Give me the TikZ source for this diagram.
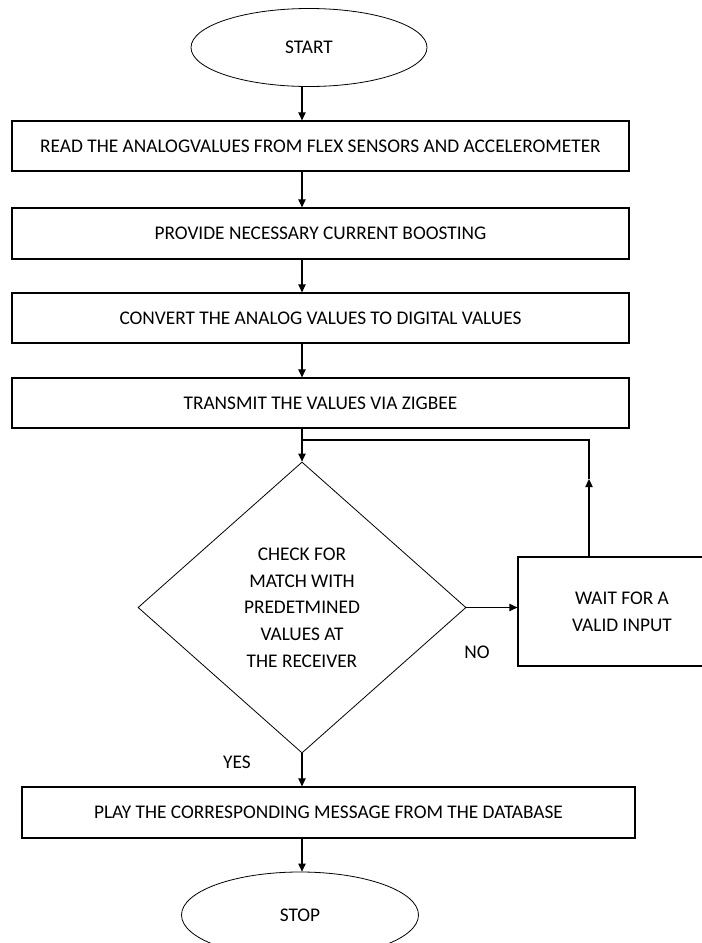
\documentclass[tikz,border=0pt]{standalone}
\usepackage{fontspec}
\setmainfont{Carlito}
\usetikzlibrary{shapes.geometric,arrows.meta}
\newcommand{\pxl}{0.75pt}

\begin{document}
\begin{tikzpicture}[x=0.75pt, y=-0.75pt,
	 >={Triangle[length=6pt,width=5.5pt]},
	 every node/.style={font=\fontsize{14.5}{20}\selectfont, inner sep=0pt},
	 proc/.style={draw, line width=0.9pt, rectangle, minimum width=617*\pxl, minimum height=50*\pxl},
	 term/.style={draw, line width=0.6pt, ellipse},
	 decide/.style={draw, line width=0.6pt, diamond, align=center},
	 flow/.style={line width=0.8pt, ->}]
	 \clip (0, 0) rectangle (702, 943);
	 
	 \node[term, minimum width=236*\pxl, minimum height=78*\pxl] (start) at (309, 47.5) {START};
	 \node[proc] (read) at (320.5, 146) {READ THE ANALOGVALUES FROM FLEX SENSORS AND ACCELEROMETER};
	 \node[proc, minimum height=51*\pxl] (boost) at (320.5, 233.5) {PROVIDE NECESSARY CURRENT BOOSTING};
	 \node[proc] (conv) at (320.5, 318) {CONVERT THE ANALOG VALUES TO DIGITAL VALUES};
	 \node[proc] (trans) at (320.5, 403) {TRANSMIT THE VALUES VIA ZIGBEE};
	 
	 \node[decide, minimum width=328*\pxl, minimum height=291*\pxl] (check) at (302, 607.5) {CHECK FOR\\MATCH WITH\\PREDETMINED\\VALUES AT\\THE RECEIVER};
	 \node[proc, minimum width=208*\pxl, minimum height=109*\pxl, align=center] (wait) at (622, 611.5) {WAIT FOR A\\VALID INPUT};
	 
	 \node[proc, minimum width=613*\pxl, minimum height=51*\pxl] (play) at (328.5, 812.5) {PLAY THE CORRESPONDING MESSAGE FROM THE DATABASE};
	 \node[term, minimum width=237*\pxl, minimum height=86*\pxl] (stop) at (300, 915) {STOP};
	 
	 \node (no) at (477, 652) {NO};
	 \node (yes) at (237, 762) {YES};
	 
	 \draw[flow] (start.south -| check) -- (read.north -| check);
	 \draw[flow] (read.south -| check) -- (boost.north -| check);
	 \draw[flow] (boost.south -| check) -- (conv.north -| check);
	 \draw[flow] (conv.south -| check) -- (trans.north -| check);
	 \draw[flow] (trans.south -| check) -- (check.north);
	 \draw[flow] (check.south) -- (play.north -| check);
	 \draw[flow] (play.south -| check) -- (stop.north -| check);
	 
	 \draw[flow] (check.east) -- (wait.west |- check);
	 \coordinate (ret) at (589, 440);
	 \coordinate (tip) at (589, 479);
	 \draw[flow] (wait.north -| ret) -- (tip);
	 \draw[line width=0.8pt] (tip) -- (ret) -- (ret -| check);
\end{tikzpicture}
\end{document}
